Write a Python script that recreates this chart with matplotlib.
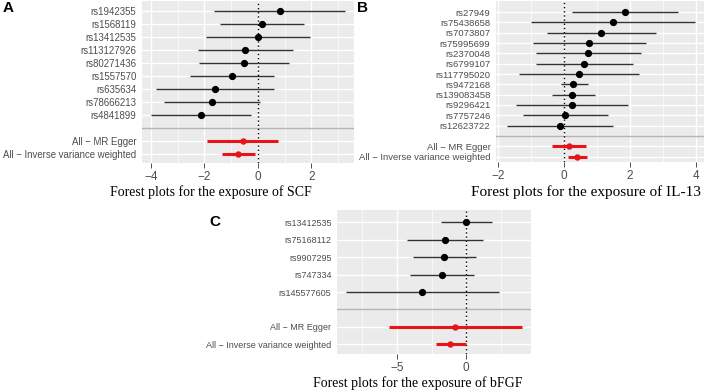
import numpy as np
import matplotlib
matplotlib.use("Agg")
import matplotlib.pyplot as plt

# panel A: SCF
snps_a = ["rs1942355", "rs1568119", "rs13412535", "rs113127926", "rs80271436",
          "rs1557570", "rs635634", "rs78666213", "rs4841899"]
b_a = [0.82, 0.17, -0.01, -0.47, -0.52, -0.98, -1.60, -1.71, -2.14]
lo_a = [-1.63, -1.41, -1.93, -2.24, -2.20, -2.54, -3.80, -3.51, -4.01]
hi_a = [3.28, 1.73, 1.94, 1.30, 1.18, 0.59, 0.61, 0.07, -0.27]
mr_b_a = [-0.57, -0.75]
mr_lo_a = [-1.89, -1.33]
mr_hi_a = [0.77, -0.12]

# panel B: IL-13
snps_b = ["rs27949", "rs75438658", "rs7073807", "rs75995699", "rs2370048",
          "rs6799107", "rs117795020", "rs9472168", "rs139083458", "rs9296421",
          "rs7757246", "rs12623722"]
b_b = [1.86, 1.49, 1.14, 0.78, 0.75, 0.62, 0.45, 0.29, 0.26, 0.25, 0.03, -0.12]
lo_b = [0.26, -1.00, -0.52, -0.93, -0.83, -0.84, -1.36, -0.09, -0.35, -1.44, -1.23, -1.73]
hi_b = [3.46, 3.98, 2.81, 2.50, 2.33, 2.10, 2.29, 0.73, 0.94, 1.94, 1.33, 1.50]
mr_b_b = [0.16, 0.40]
mr_lo_b = [-0.35, 0.12]
mr_hi_b = [0.67, 0.70]

# panel C: bFGF
snps_c = ["rs13412535", "rs75168112", "rs9907295", "rs747334", "rs145577605"]
b_c = [0.0, -1.54, -1.59, -1.78, -3.17]
lo_c = [-1.85, -4.28, -3.87, -4.06, -8.67]
hi_c = [1.85, 1.20, 0.70, 0.58, 2.33]
mr_b_c = [-0.82, -1.15]
mr_lo_c = [-5.60, -2.21]
mr_hi_c = [4.01, 0.0]

methods = ["All \u2212 MR Egger", "All \u2212 Inverse variance weighted"]

plt.rcParams["font.family"] = ["Liberation Sans", "DejaVu Sans"]

W, H = 708, 392
fig = plt.figure(figsize=(W / 100, H / 100), dpi=100)


def add_ax(l, t, r, b):
    return fig.add_axes([l / W, 1 - b / H, (r - l) / W, (b - t) / H])


def forest(ax, snps, b, lo, hi, mb, mlo, mhi, xlim, ticks, ylim, ysize):
    n = len(snps)
    ys = np.arange(1, n + 1)
    blank = n + 1
    ym = np.array([n + 2, n + 3])
    ax.set_facecolor("#EBEBEB")

    ax.axhline(blank, color="#B5B5B5", lw=1.0)
    ax.axvline(0, color="black", ls=(0, (1, 2)), lw=1.0)
    ax.hlines(ys, lo, hi, color="#333333", lw=1.0)
    ax.plot(b, ys, "o", color="black", ms=4.2)
    ax.hlines(ym, mlo, mhi, color="#E8141A", lw=2.2)
    ax.plot(mb, ym, "o", color="#E8141A", ms=3.6)

    ax.set_xticks(ticks)
    step = ticks[1] - ticks[0]
    minor = np.arange(ticks[0] - step * 1.5, xlim[1], step)
    ax.set_xticks(minor, minor=True)
    ax.grid(True, which="major", color="white", lw=1.0)
    ax.grid(True, which="minor", axis="x", color="white", lw=0.5)
    ax.set_axisbelow(True)
    for s in ax.spines.values():
        s.set_visible(False)
    ax.set_yticks(list(ys) + list(ym))
    ax.set_yticklabels(snps + methods)
    ax.tick_params(axis="y", length=0, labelsize=ysize, labelcolor="#4D4D4D", pad=4)
    ax.tick_params(axis="x", which="major", length=3.5, width=0.6, color="#333333",
                   labelsize=8.5, labelcolor="#4D4D4D", pad=2)
    ax.tick_params(axis="x", which="minor", length=0)
    ax.set_xlim(xlim)
    ax.set_ylim(ylim)


ax_a = add_ax(142, 1, 354, 163)
forest(ax_a, snps_a, b_a, lo_a, hi_a, mr_b_a, mr_lo_a, mr_hi_a,
       (-4.34, 3.6), [-4, -2, 0, 2], (12.67, 0.21), 6.95)

ax_b = add_ax(496, 1, 704, 162)
forest(ax_b, snps_b, b_b, lo_b, hi_b, mr_b_b, mr_lo_b, mr_hi_b,
       (-2.05, 4.25), [-2, 0, 2, 4], (15.52, -0.07), 6.8)

ax_c = add_ax(337, 210, 531, 354)
forest(ax_c, snps_c, b_c, lo_c, hi_c, mr_b_c, mr_lo_c, mr_hi_c,
       (-9.32, 4.67), [-5, 0], (8.55, 0.30), 6.5)

serif = ["Liberation Serif", "DejaVu Serif"]
fig.text(211 / W, 1 - 192 / H, "Forest plots for the exposure of SCF",
         ha="center", va="center", family=serif, fontsize=10)
fig.text(586 / W, 1 - 192 / H, "Forest plots for the exposure of IL-13",
         ha="center", va="center", family=serif, fontsize=11)
fig.text(418 / W, 1 - 383 / H, "Forest plots for the exposure of bFGF",
         ha="center", va="center", family=serif, fontsize=10)

for lab, x, y in [("A", 8, 8), ("B", 363, 8), ("C", 215, 222)]:
    fig.text(x / W, 1 - y / H, lab, ha="center", va="center",
             fontweight="bold", fontsize=11)

fig.savefig("out.png", dpi=100)
